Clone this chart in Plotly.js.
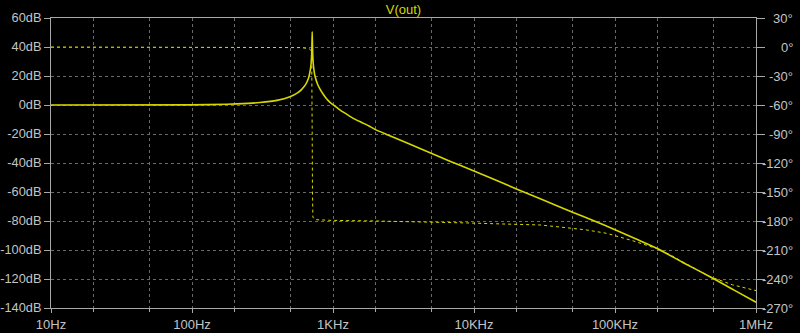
<!DOCTYPE html>
<html>
<head>
<meta charset="utf-8">
<script src="https://cdn.plot.ly/plotly-3.0.1.min.js"></script>
<style>
html,body{margin:0;padding:0;background:#000;}
#chart{width:800px;height:333px;}
</style>
</head>
<body>
<div id="chart"></div>
<script>
// Magnitude (dB) vs frequency (Hz)
var freqMag = [10, 100, 177, 250, 303, 400, 495, 560, 600, 640, 670, 690, 700, 706, 709, 712, 715, 718, 725, 745, 780, 809, 850, 900, 953, 1000, 1100, 1200, 1393, 1600, 1800, 1987, 2400, 2985, 4140, 5740, 7960, 10000, 20000, 31300, 50000, 70000, 100000, 140000, 197700, 300000, 472000, 700000, 1000000];
var magDB   = [0, 0.1, 0.5, 1.1, 1.7, 3.2, 5.7, 8.4, 10.8, 14.2, 18.5, 24, 29, 35, 42, 50.5, 42, 35, 28, 20, 14, 11, 7.6, 4.3, 1.8, 0.2, -2.8, -5.3, -9.2, -12.1, -14.5, -16.8, -20.3, -24.2, -30, -35.9, -41.6, -45.5, -57.9, -65.7, -73.9, -79.7, -86, -92.3, -98.8, -108.4, -118.4, -127.7, -136];

// Phase (degrees) vs frequency (Hz)
var freqPh = [10, 300, 600, 680, 700, 706, 709, 712, 715, 720, 745, 950, 2000, 5120, 8900, 15300, 29400, 45700, 63200, 87700, 103000, 134000, 197700, 250000, 303000, 380000, 472000, 680000, 1000000];
var phaseDeg = [0, -0.2, -0.6, -2, -3.8, -6, -30, -90, -150, -176, -178.6, -179.3, -180, -181, -182, -183, -184.1, -187, -189.3, -192.8, -195.5, -200.5, -208.5, -215.5, -222.4, -230.5, -237.6, -246, -252];

// Tick labels
var xTickVals = [10, 100, 1000, 10000, 100000, 1000000];
var xTickText = ['10Hz', '100Hz', '1KHz', '10KHz', '100KHz', '1MHz'];
var yTickVals = [60, 40, 20, 0, -20, -40, -60, -80, -100, -120, -140];
var yTickText = ['60dB', '40dB', '20dB', '0dB', '-20dB', '-40dB', '-60dB', '-80dB', '-100dB', '-120dB', '-140dB'];
var y2TickVals = [30, 0, -30, -60, -90, -120, -150, -180, -210, -240, -270];
var y2TickText = ['30°', '0°', '-30°', '-60°', '-90°', '-120°', '-150°', '-180°', '-210°', '-240°', '-270°'];

var traceColor = 'rgb(215,215,0)';
var labelColor = '#c4c4c4';
var axisColor = '#a8a8a8';
var gridColor = '#6a6a6a';
var fontFam = 'Liberation Sans, Arial, sans-serif';

var traces = [
  {x: freqPh, y: phaseDeg, yaxis: 'y2', type: 'scatter', mode: 'lines',
   line: {color: traceColor, width: 1, dash: '3px,3px'}, hoverinfo: 'skip'},
  {x: freqMag, y: magDB, type: 'scatter', mode: 'lines',
   line: {color: traceColor, width: 1.6, shape: 'spline', smoothing: 0.6}, hoverinfo: 'skip'}
];

var annotations = y2TickVals.map(function(v, i){
  return {xref: 'paper', yref: 'y2', x: 1.0553, y: v, xanchor: 'right', yanchor: 'middle',
          text: y2TickText[i], showarrow: false,
          font: {family: fontFam, size: 13, color: labelColor}};
});

var layout = {
  width: 800, height: 333,
  paper_bgcolor: '#000', plot_bgcolor: '#000',
  margin: {l: 51, r: 44, t: 18, b: 25},
  showlegend: false,
  hovermode: false,
  font: {family: fontFam, size: 13, color: labelColor},
  title: {text: 'V(out)', xref: 'paper', x: 0.5, xanchor: 'center',
          yref: 'container', y: 0.973, yanchor: 'middle',
          font: {family: fontFam, size: 13, color: traceColor}},
  xaxis: {
    type: 'log', range: [1, 6],
    tickvals: xTickVals, ticktext: xTickText,
    ticks: 'outside', ticklen: 4, tickcolor: axisColor, tickwidth: 1,
    showline: true, linecolor: axisColor, linewidth: 1, mirror: true,
    showgrid: true, gridcolor: gridColor, griddash: '3px,3px', gridwidth: 1,
    zeroline: false,
    minor: {ticks: 'outside', ticklen: 3, tickcolor: axisColor,
            showgrid: true, gridcolor: gridColor, griddash: '3px,3px', gridwidth: 1},
    tickfont: {family: fontFam, size: 13, color: labelColor}
  },
  yaxis: {
    range: [-140, 60],
    tickvals: yTickVals, ticktext: yTickText,
    ticks: 'outside', ticklen: 6, tickcolor: axisColor,
    showline: true, linecolor: axisColor, linewidth: 1, mirror: true,
    showgrid: true, gridcolor: gridColor, griddash: '3px,3px', gridwidth: 1,
    zeroline: false,
    tickfont: {family: fontFam, size: 12.8, color: labelColor}
  },
  yaxis2: {
    range: [-270, 30], overlaying: 'y', side: 'right',
    tickvals: y2TickVals, ticktext: y2TickText, showticklabels: false,
    ticks: 'outside', ticklen: 8, tickcolor: axisColor,
    showline: true, linecolor: axisColor, linewidth: 1,
    showgrid: false, zeroline: false
  },
  annotations: annotations
};

Plotly.newPlot('chart', traces, layout, {staticPlot: true, displayModeBar: false});
</script>
</body>
</html>
